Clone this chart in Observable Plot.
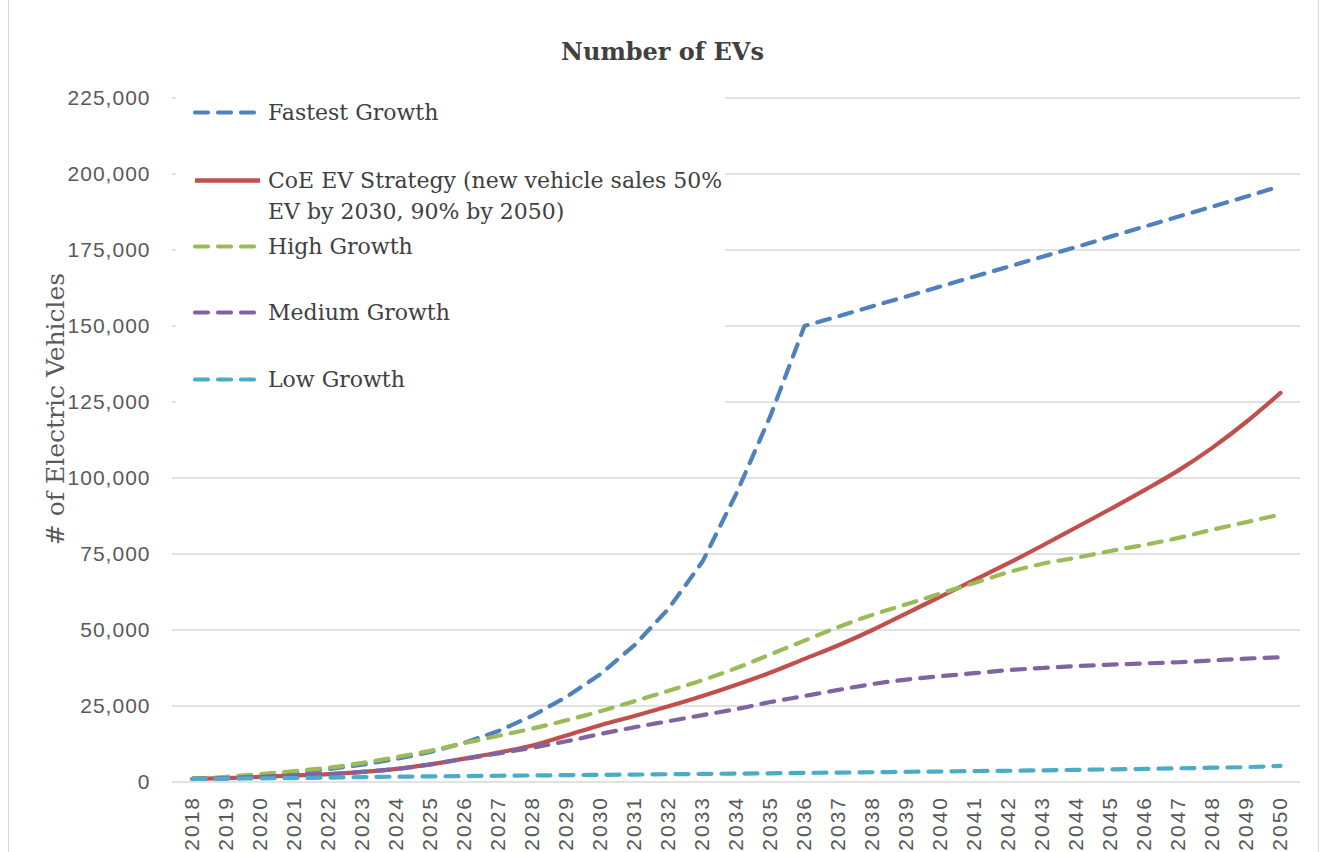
<!DOCTYPE html>
<html>
<head>
<meta charset="utf-8">
<script src="https://cdn.jsdelivr.net/npm/d3@7"></script>
<script src="https://cdn.jsdelivr.net/npm/@observablehq/plot@0.6"></script>
<style>
  body { margin: 0; background: #fff; }
  #wrap { position: relative; width: 1325px; height: 852px; overflow: hidden; background: #fff; }
  #frame { position: absolute; left: 8px; top: 0; width: 1311px; height: 852px; border-left: 1.5px solid #d9d9d9; border-right: 1.5px solid #d9d9d9; box-sizing: border-box; pointer-events: none; }
  #title { position: absolute; left: 0; width: 1325px; top: 37px; text-align: center; font: bold 24px "DejaVu Serif", serif; color: #404040; line-height: 30px; }
  #chart { position: absolute; left: 0; top: 80px; }
  #legend { position: absolute; left: 176px; top: 85px; width: 549px; height: 325px; background: #fff; }
  .lrow { position: absolute; left: 0; width: 549px; }
  .ltext { position: absolute; left: 92px; font: 22px "DejaVu Serif", serif; color: #404040; line-height: 31px; white-space: nowrap; }
  .lsw { position: absolute; left: 15px; }
  #chart g[aria-label="x-axis tick label"] text { letter-spacing: 2px; }
  #chart g[aria-label="y-axis tick label"] text { letter-spacing: 1px; }
</style>
</head>
<body>
<div id="wrap">
  <div id="title">Number of EVs</div>
  <div id="chart"></div>
  <div id="legend"></div>
  <div id="frame"></div>
</div>
<script>
// ---- data ----
const years = [2018, 2019, 2020, 2021, 2022, 2023, 2024, 2025, 2026, 2027, 2028,
  2029, 2030, 2031, 2032, 2033, 2034, 2035, 2036, 2037, 2038, 2039, 2040,
  2041, 2042, 2043, 2044, 2045, 2046, 2047, 2048, 2049, 2050];

const fastestGrowth = [1000, 1400, 2100, 3000, 4200, 5700, 7600, 9900, 12900, 16800, 21800,
  28000, 35500, 45000, 57000, 72500, 95000, 120500, 150000, 153200, 156500, 159700, 163000,
  166300, 169500, 172800, 176000, 179400, 182700, 186000, 189300, 192600, 196000];

const coeStrategy = [1000, 1300, 1700, 2200, 2600, 3300, 4300, 5800, 7700, 9700, 12000,
  15300, 18700, 21700, 24900, 28300, 32000, 36000, 40500, 45000, 50000, 55500, 61000,
  66500, 72000, 77800, 83800, 89800, 96000, 102500, 110000, 118500, 128000];

const highGrowth = [1000, 1700, 2600, 3600, 4700, 6300, 8200, 10300, 12800, 15200, 17600,
  20300, 23300, 26600, 30000, 33500, 37500, 42000, 46500, 51000, 55000, 58500, 62000,
  65500, 69000, 71800, 73800, 76000, 78000, 80300, 83000, 85500, 88000];

const mediumGrowth = [1000, 1300, 1700, 2200, 2600, 3300, 4300, 5800, 7600, 9400, 11300,
  13400, 15800, 18000, 20000, 22000, 24000, 26300, 28300, 30300, 32200, 33700, 34800,
  35800, 36800, 37500, 38100, 38600, 39000, 39400, 40000, 40600, 41000];

const lowGrowth = [1000, 1100, 1200, 1300, 1450, 1600, 1750, 1850, 1950, 2050, 2150,
  2250, 2350, 2450, 2550, 2650, 2750, 2850, 3000, 3100, 3200, 3350, 3450,
  3600, 3700, 3850, 4000, 4150, 4300, 4500, 4700, 4900, 5300];

const seriesNames = [
  "Fastest Growth",
  "CoE EV Strategy (new vehicle sales 50%\nEV by 2030, 90% by 2050)",
  "High Growth",
  "Medium Growth",
  "Low Growth"
];
const seriesValues = [fastestGrowth, coeStrategy, highGrowth, mediumGrowth, lowGrowth];
const seriesColors = ["#4F81BD", "#C0504D", "#9BBB59", "#8064A2", "#4BACC6"];
const seriesDashed = [true, false, true, true, true];
const seriesCurve = ["linear", "monotone-x", "monotone-x", "monotone-x", "monotone-x"];

const yTicks = [0, 25000, 50000, 75000, 100000, 125000, 150000, 175000, 200000, 225000];
const chartTitle = "Number of EVs";
const yTitle = "# of Electric Vehicles";

// ---- chart ----
const DASH = "13,10";
const lineMarks = seriesValues.map((vals, i) =>
  Plot.line(years.map((yr, j) => ({year: yr, value: vals[j]})), {
    x: "year", y: "value",
    stroke: seriesColors[i],
    strokeWidth: 4.2,
    strokeLinecap: "round",
    strokeLinejoin: "round",
    curve: seriesCurve[i],
    strokeDasharray: seriesDashed[i] ? DASH : null
  })
);

const chart = Plot.plot({
  width: 1325,
  height: 772,
  marginLeft: 172,
  marginRight: 25,
  marginTop: 17.5,
  marginBottom: 70.5,
  x: {type: "point", domain: years, padding: 0.5},
  y: {domain: [0, 225000]},
  style: {background: "transparent", fontFamily: "'Liberation Sans', Arial, sans-serif", color: "#595959", overflow: "visible"},
  marks: [
    Plot.gridY(yTicks, {stroke: "#d9d9d9", strokeOpacity: 1, strokeWidth: 1.3}),
    Plot.axisY(yTicks, {tickSize: 0, tickPadding: 22, tickFormat: d3.format(","), fontSize: 21, label: null}),
    Plot.axisX(years, {tickSize: 0, tickRotate: -90, tickPadding: 14, fontSize: 21, label: null, tickFormat: d => String(d)}),
    Plot.text([yTitle], {frameAnchor: "left", textAnchor: "middle", rotate: -90, dx: -117, dy: -31, fontSize: 25, fontFamily: "'DejaVu Serif', serif", fill: "#595959"}),
    ...lineMarks
  ]
});
document.getElementById("chart").appendChild(chart);
document.getElementById("title").textContent = chartTitle;

// ---- legend ----
const rowCenters = [27, 95, 161, 227, 294];
const legend = d3.select("#legend");
seriesNames.forEach((name, i) => {
  const row = legend.append("div").attr("class", "lrow").style("top", (rowCenters[i] - 15.5) + "px");
  const svg = row.append("svg").attr("class", "lsw").attr("width", 70).attr("height", 31).style("top", "0px");
  svg.append("line")
    .attr("x1", 4).attr("x2", seriesDashed[i] ? 65 : 69).attr("y1", 15.5).attr("y2", 15.5)
    .attr("stroke", seriesColors[i]).attr("stroke-width", seriesDashed[i] ? 4.2 : 4.5)
    .attr("stroke-linecap", seriesDashed[i] ? "round" : "butt")
    .attr("stroke-dasharray", seriesDashed[i] ? DASH : null);
  const t = row.append("div").attr("class", "ltext").style("top", "0px");
  name.split("\n").forEach((ln, k) => { if (k) t.append("br"); t.append("span").text(ln); });
});
</script>
</body>
</html>
